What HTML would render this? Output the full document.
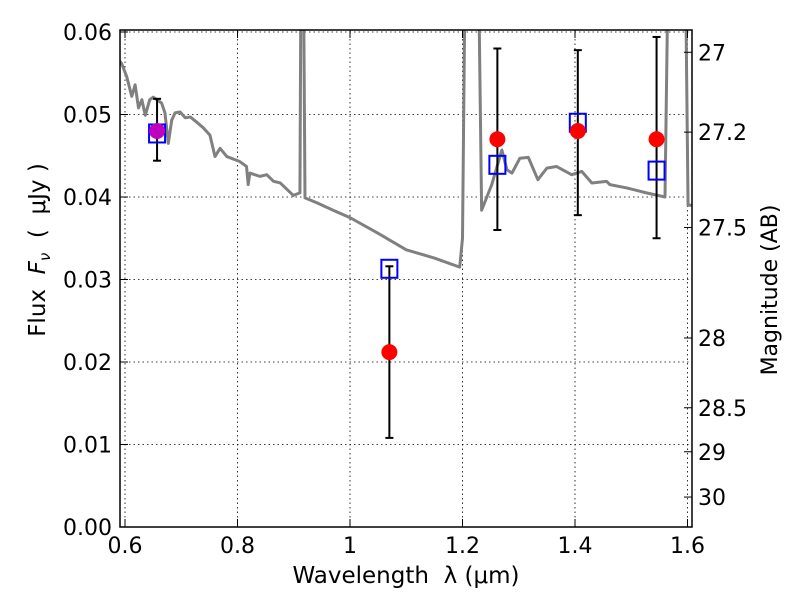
<!DOCTYPE html>
<html><head><meta charset="utf-8"><style>
body{margin:0;background:#fff;}
svg text{font-family:"DejaVu Sans","Liberation Sans",sans-serif;fill:#000;}
</style></head><body>
<svg id="chart" width="800" height="600" xmlns="http://www.w3.org/2000/svg">
<defs><clipPath id="plotclip"><rect x="120" y="30" width="572" height="497"/></clipPath></defs>
<rect width="800" height="600" fill="#fff"/>
<g id="grid"></g><g id="spec" clip-path="url(#plotclip)"></g><g id="marks"></g>
<rect x="120" y="30" width="572" height="497" fill="none" stroke="#000" stroke-width="1.5"/>
<g id="axes"></g>
<text x="406" y="583" font-size="23" text-anchor="middle" xml:space="preserve">Wavelength  λ (μm)</text>
<text transform="translate(45,250) rotate(-90)" font-size="23" text-anchor="middle" xml:space="preserve">Flux  <tspan font-style="italic">F</tspan><tspan font-style="italic" font-size="15" dy="5">ν</tspan><tspan dy="-5">  (  μJy )</tspan></text>
<text transform="translate(777,290) rotate(-90)" font-size="22" text-anchor="middle">Magnitude (AB)</text>
</svg>
<script>
const xTicks=[0.6,0.8,1,1.2,1.4,1.6];
const xTickLabels=["0.6","0.8","1","1.2","1.4","1.6"];
const yTicks=[0,0.01,0.02,0.03,0.04,0.05,0.06];
const yTickLabels=["0.00","0.01","0.02","0.03","0.04","0.05","0.06"];
const magTicks=[27,27.2,27.5,28,28.5,29,30];
const magTickLabels=["27","27.2","27.5","28","28.5","29","30"];
const obsWave=[0.657,1.07,1.262,1.405,1.545];
const obsFlux=[0.048,0.0212,0.047,0.048,0.047];
const obsLow=[0.0444,0.0108,0.0360,0.0378,0.0350];
const obsHigh=[0.0519,0.0316,0.0580,0.0578,0.0594];
const modelFlux=[0.0477,0.0313,0.0439,0.0490,0.0432];
const specWave=[0.59,0.594,0.603,0.612,0.618,0.624,0.630,0.636,0.644,0.650,0.665,0.671,0.677,0.683,0.689,0.698,0.707,0.716,0.727,0.739,0.751,0.760,0.769,0.781,0.804,0.816,0.819,0.822,0.840,0.852,0.864,0.876,0.899,0.911,0.913,0.917,0.920,0.941,0.970,1.0,1.05,1.1,1.15,1.195,1.2,1.205,1.215,1.228,1.234,1.252,1.270,1.279,1.288,1.302,1.317,1.334,1.350,1.367,1.394,1.412,1.430,1.456,1.462,1.492,1.527,1.560,1.566,1.596,1.601,1.61];
const specFlux=[0.0565,0.0562,0.0546,0.0522,0.0536,0.0508,0.0518,0.0499,0.0518,0.0521,0.0514,0.0502,0.0465,0.0493,0.0502,0.0503,0.0496,0.0497,0.0491,0.0484,0.0475,0.0449,0.0459,0.0449,0.0443,0.0437,0.0415,0.0429,0.0425,0.0427,0.0419,0.0417,0.0402,0.0405,0.07,0.07,0.0399,0.0393,0.0384,0.0375,0.0356,0.0336,0.0326,0.0315,0.035,0.07,0.07,0.07,0.0384,0.0415,0.0457,0.0433,0.0429,0.0447,0.0448,0.0421,0.0435,0.0437,0.0427,0.0431,0.0417,0.0419,0.0415,0.0411,0.0405,0.0400,0.07,0.07,0.039,0.039];
const X=w=>125+(w-0.6)*562.5;
const Y=f=>527-f*8250;
const NS="http://www.w3.org/2000/svg";
function mk(tag,attrs,parent){const e=document.createElementNS(NS,tag);for(const k in attrs)e.setAttribute(k,attrs[k]);document.getElementById(parent).appendChild(e);return e;}
xTicks.forEach((t,i)=>{const x=X(t);
 const g=mk('line',{x1:x,x2:x,y1:30,y2:527,stroke:'#000','stroke-width':0.8,'stroke-dasharray':'1.5,3'},'grid');
 
 const tk=mk('line',{x1:x,x2:x,y1:527,y2:519,stroke:'#000'},'axes');
 const tk2=mk('line',{x1:x,x2:x,y1:30,y2:38,stroke:'#000'},'axes');
 const l=mk('text',{x:x,y:553,'font-size':22,'text-anchor':'middle'},'axes');l.textContent=xTickLabels[i];
 });
yTicks.forEach((t,i)=>{const y=Y(t);
 const g=mk('line',{x1:120,x2:692,y1:y,y2:y,stroke:'#000','stroke-width':0.8,'stroke-dasharray':'1.5,3'},'grid');
 
 const tk=mk('line',{x1:120,x2:128,y1:y,y2:y,stroke:'#000'},'axes');
 const l=mk('text',{x:112,y:y+8,'font-size':22,'text-anchor':'end'},'axes');l.textContent=yTickLabels[i];
 });
magTicks.forEach((m,i)=>{const y=Y(Math.pow(10,(23.9-m)/2.5));
 const tk=mk('line',{x1:684,x2:692,y1:y,y2:y,stroke:'#000'},'axes');
 const l=mk('text',{x:698,y:y+8,'font-size':22},'axes');l.textContent=magTickLabels[i];
 });
const sp=mk('polyline',{points:specWave.map((w,i)=>X(w)+','+Y(specFlux[i])).join(' '),fill:'none',stroke:'#808080','stroke-width':3,'stroke-linejoin':'round'},'spec');

obsWave.forEach((w,i)=>{const x=X(w);
 const e=mk('line',{x1:x,x2:x,y1:Y(obsLow[i]),y2:Y(obsHigh[i]),stroke:'#000','stroke-width':2},'marks');
 [obsLow[i],obsHigh[i]].forEach(v=>{const c=mk('line',{x1:x-4,x2:x+4,y1:Y(v),y2:Y(v),stroke:'#000','stroke-width':2},'marks');});
 const s=mk('rect',{x:x-8,y:Y(modelFlux[i])-9,width:16,height:18,fill:'none',stroke:'#0000ff','stroke-width':2},'marks');
 
 const p=mk('circle',{cx:x,cy:Y(obsFlux[i]),r:8,fill:i===0?'#bf00bf':'#ff0000'},'marks');
 });
</script>
</body></html>
